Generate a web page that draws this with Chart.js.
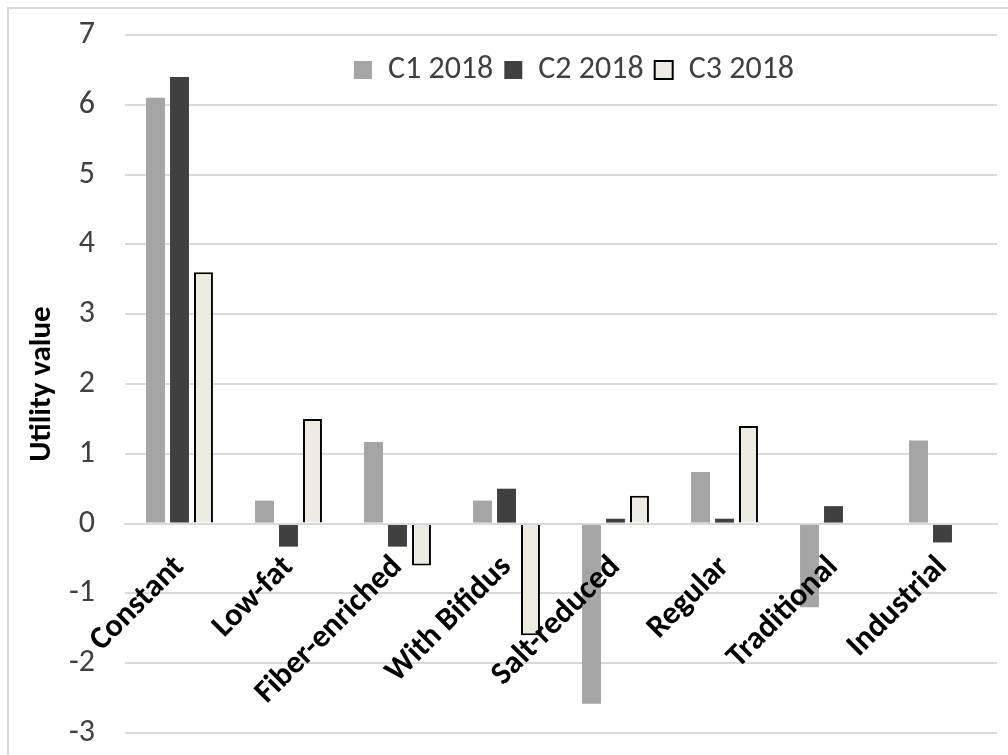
<!DOCTYPE html>
<html>
<head>
<meta charset="utf-8">
<script src="https://cdn.jsdelivr.net/npm/chart.js@4.4.1/dist/chart.umd.min.js"></script>
<style>
  html, body { margin: 0; padding: 0; background: #ffffff; }
  #wrap { position: relative; width: 1008px; height: 755px; overflow: hidden; }
  #frame { position: absolute; left: 7px; top: 7px; width: 1100px; height: 900px;
           border-left: 2px solid #d9d9d9; border-top: 2px solid #d9d9d9; pointer-events: none; }
  canvas { position: absolute; left: 0; top: 0; }
</style>
</head>
<body>
<div id="wrap">
  <canvas id="c" width="1008" height="755"></canvas>
  <div id="frame"></div>
</div>
<script>
const categories = ["Constant", "Low-fat", "Fiber-enriched", "With Bifidus", "Salt-reduced", "Regular", "Traditional", "Industrial"];
const seriesNames = ["C1 2018", "C2 2018", "C3 2018"];
const c1Values = [6.1, 0.33, 1.17, 0.33, -2.58, 0.74, -1.2, 1.19];
const c2Values = [6.4, -0.33, -0.33, 0.5, 0.07, 0.07, 0.25, -0.27];
const c3Values = [3.6, 1.5, -0.6, -1.6, 0.4, 1.4, null, null];
const yTicks = [-3, -2, -1, 0, 1, 2, 3, 4, 5, 6, 7];
const yTitle = "Utility value";

const FONT = "Carlito, Lato, sans-serif";

const legendFloat = {
  id: 'legendFloat',
  beforeLayout(chart) {
    const lg = chart.legend;
    if (lg && !lg._patched) {
      const orig = lg.fit.bind(lg);
      lg.fit = function () { orig(); this._realH = this.height; this.height = 0; };
      lg._patched = true;
    }
  },
  afterLayout(chart) {
    const lg = chart.legend;
    if (!lg) return;
    const ca = chart.chartArea;
    const shift = (ca.left + ca.right) / 2 + 13 - (lg.left + lg.right) / 2;
    lg.left += shift; lg.right += shift;
    lg.height = lg._realH;
    lg.top = 43; lg.bottom = lg.top + lg.height;
  }
};

new Chart(document.getElementById('c'), {
  type: 'bar',
  data: {
    labels: categories,
    datasets: [
      { label: seriesNames[0], data: c1Values, backgroundColor: '#a5a5a5', borderWidth: 0 },
      { label: seriesNames[1], data: c2Values, backgroundColor: '#404040', borderWidth: 0 },
      { label: seriesNames[2], data: c3Values, backgroundColor: '#eeece1', borderColor: '#000000', borderWidth: 2 }
    ]
  },
  options: {
    responsive: false,
    animation: false,
    devicePixelRatio: 1,
    categoryPercentage: 0.66,
    barPercentage: 0.79,
    layout: { padding: { top: 35, right: 11, bottom: 22, left: 0 } },
    plugins: {
      legend: {
        position: 'top',
        align: 'center',
        labels: {
          boxWidth: 18, boxHeight: 18, padding: 11,
          color: '#404040',
          font: { family: FONT, size: 32 }
        }
      },
      tooltip: { enabled: false }
    },
    scales: {
      x: {
        position: { y: 0 },
        grid: { display: false, drawTicks: false },
        border: { display: true, color: '#d9d9d9', width: 2, z: 1 },
        ticks: {
          minRotation: 45, maxRotation: 45, autoSkip: false,
          padding: 25,
          z: 2,
          color: '#000000',
          font: { family: FONT, size: 32, weight: 'bold' }
        },
        afterFit(scale) { scale.height = 0; }
      },
      y: {
        min: yTicks[0], max: yTicks[yTicks.length - 1],
        afterBuildTicks(scale) { scale.ticks = yTicks.map(v => ({ value: v })); },
        grid: { color: '#d9d9d9', lineWidth: 2, drawTicks: true, tickLength: 30, tickColor: 'rgba(0,0,0,0)' },
        border: { display: false },
        ticks: {
          padding: 0,
          color: '#404040',
          font: { family: FONT, size: 32 }
        },
        title: {
          display: true, text: yTitle, color: '#000000',
          padding: { top: 24, bottom: 0 },
          font: { family: FONT, size: 31, weight: 'bold' }
        },
        afterFit(scale) { scale.width = 125; }
      }
    }
  },
  plugins: [legendFloat]
});
</script>
</body>
</html>
